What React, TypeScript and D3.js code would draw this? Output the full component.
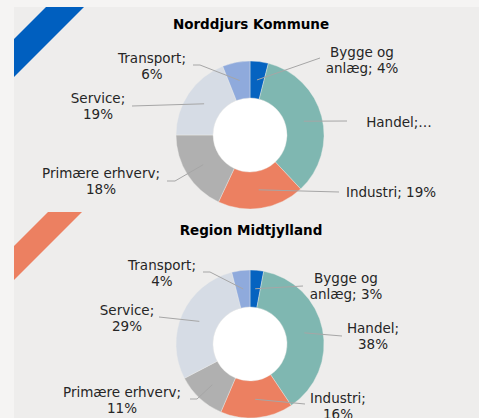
import React from "react";
import * as d3 from "d3";

const categories = ["Bygge og anlæg", "Handel", "Industri", "Primære erhverv", "Service", "Transport"];
const valuesNorddjurs = [4, 34, 19, 18, 19, 6];
const valuesRegion = [3, 38, 16, 11, 29, 4];
const titles = ["Norddjurs Kommune", "Region Midtjylland"];
const labelsNorddjurs = [["Bygge og", "anlæg; 4%"], ["Handel;…"], ["Industri; 19%"], ["Primære erhverv;", "18%"], ["Service;", "19%"], ["Transport;", "6%"]];
const labelsRegion = [["Bygge og", "anlæg; 3%"], ["Handel;", "38%"], ["Industri;", "16%"], ["Primære erhverv;", "11%"], ["Service;", "29%"], ["Transport;", "4%"]];

const colors = ["#0563c0", "#7fb7b1", "#ec8061", "#b0b0b0", "#d6dce5", "#8faadc"];
const FONT = "'DejaVu Sans', Verdana, sans-serif";

// layout: [cx, firstBaseline, lineStartX, lineStartY, elbowX|null]
const layoutTop = [
  [362, 57, 320, 58, null],
  [399, 127, 347, 121, null],
  [391, 197, 339, 192, null],
  [101, 178, 167, 181, 175],
  [98, 103, 132, 106, null],
  [152, 63, 193, 65, 200],
];
const layoutBottom = [
  [346, 283, 303, 286, null],
  [373, 333, 342, 336, null],
  [338, 403, 305, 404, null],
  [122, 397, 190, 399, 197],
  [127, 315, 159, 317, null],
  [162, 270, 203, 272, 210],
];

const R = 74;
const r = 37;

function Donut({ values, labels, layout, cx, cy, title, titleY, lh }) {
  const pie = d3.pie<number>().sort(null).value((d) => d);
  const arcs = pie(values);
  const arc = d3.arc<any>().innerRadius(r).outerRadius(R);
  return (
    <g>
      <text x={251} y={titleY} textAnchor="middle" fontFamily={FONT} fontWeight="bold" fontSize={13.5} fill="#000">
        {title}
      </text>
      <g transform={`translate(${cx},${cy})`}>
        <circle r={r} fill="#ffffff" />
        {arcs.map((a, i) => (
          <path key={i} d={arc(a) || ""} fill={colors[i]} stroke="#eeedec" strokeWidth={0.4} />
        ))}
      </g>
      {arcs.map((a, i) => {
        const [mx, my] = arc.centroid(a);
        const [tx, ty, lx, ly, ex] = layout[i];
        const pts = ex != null ? [[lx, ly], [ex, ly], [mx + cx, my + cy]] : [[lx, ly], [mx + cx, my + cy]];
        return (
          <g key={"l" + i}>
            <path d={d3.line()(pts as any) || ""} fill="none" stroke="#a6a6a6" strokeWidth={1} />
            <text textAnchor="middle" fontFamily={FONT} fontSize={13.5} fill="#262626">
              {labels[i].map((t, j) => (
                <tspan key={j} x={tx} y={ty + j * lh}>
                  {t}
                </tspan>
              ))}
            </text>
          </g>
        );
      })}
    </g>
  );
}

export default function App() {
  return (
    <svg width={479} height={418} style={{ position: "absolute", left: 0, top: 0, display: "block" }}>
      <rect x={0} y={0} width={479} height={418} fill="#f5f4f3" />
      <rect x={14} y={7} width={465} height={411} fill="#eeedec" />
      <clipPath id="panel">
        <rect x={14} y={7} width={465} height={411} />
      </clipPath>
      <g clipPath="url(#panel)">
        <polygon points="46,7 84,7 -2,93 -40,93" fill="#005fbf" />
        <polygon points="48,212 82,212 -2,296 -36,296" fill="#ec8061" />
      </g>
      <Donut values={valuesNorddjurs} labels={labelsNorddjurs} layout={layoutTop} cx={250} cy={135} title={titles[0]} titleY={29} lh={15.5} />
      <Donut values={valuesRegion} labels={labelsRegion} layout={layoutBottom} cx={250} cy={344} title={titles[1]} titleY={235} lh={16} />
    </svg>
  );
}
